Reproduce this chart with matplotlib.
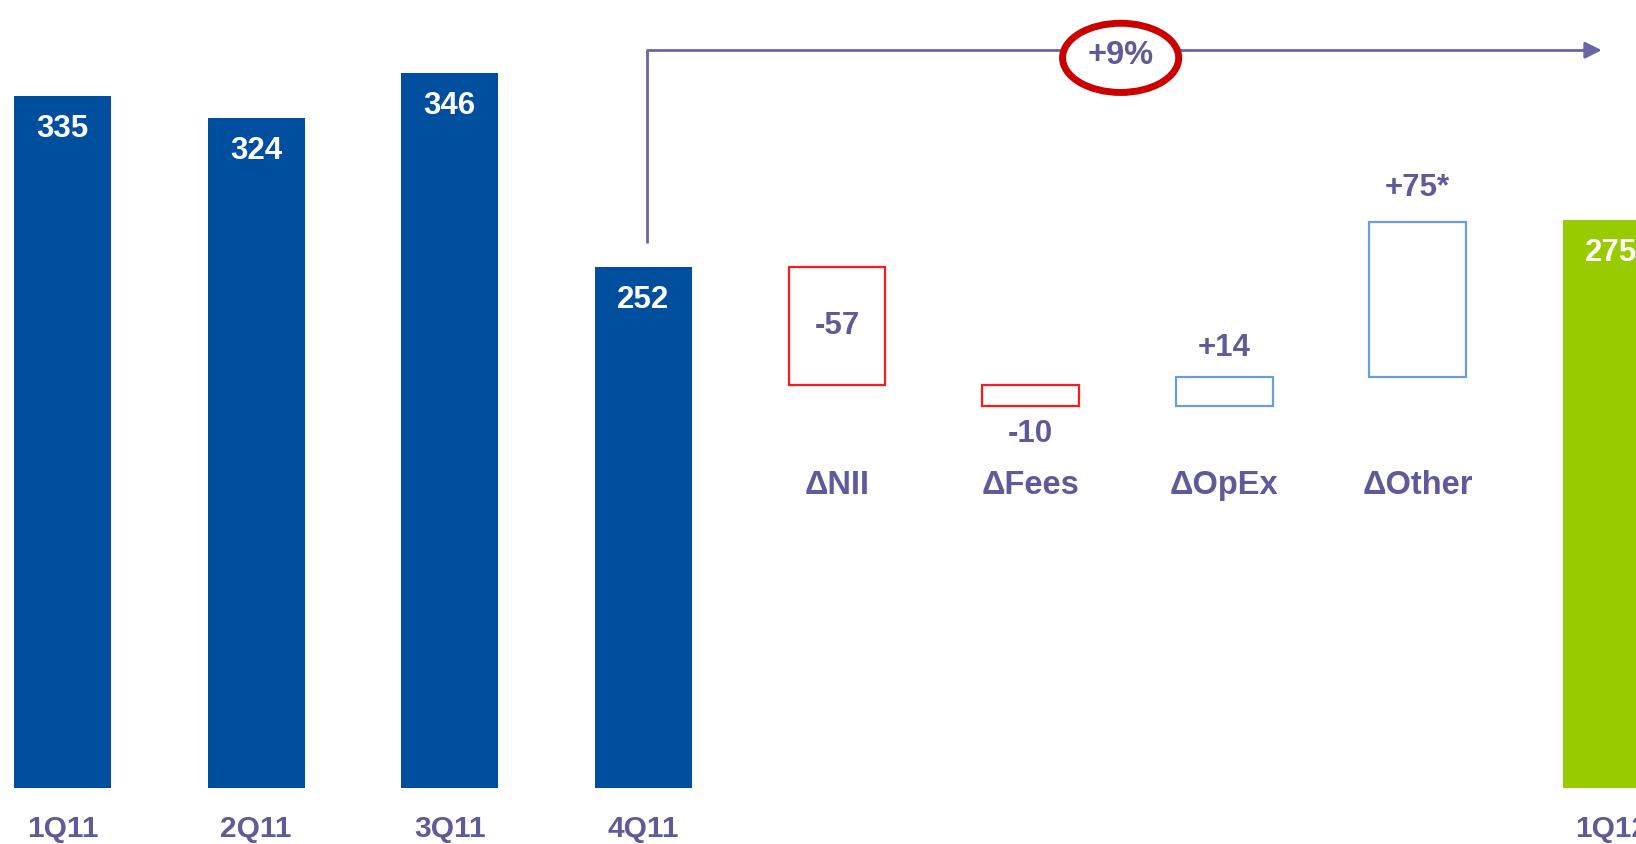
import matplotlib
matplotlib.use("Agg")
import matplotlib.pyplot as plt
from matplotlib.patches import Rectangle, Ellipse

# ---- data ----
quarters = ["1Q11", "2Q11", "3Q11", "4Q11"]
quarter_values = [335, 324, 346, 252]
delta_labels = ["ΔNII", "ΔFees", "ΔOpEx", "ΔOther"]
delta_values = [-57, -10, 14, 75]
delta_texts = ["-57", "-10", "+14", "+75*"]
final_label = "1Q12"
final_value = 275
growth_text = "+9%"

# ---- styles ----
BLUE = "#004F9E"
GREEN = "#99CC00"
RED_EDGE = "#FF1A1A"
BLUE_EDGE = "#6C9BDF"
PURPLE = "#5F5B99"
ARROW = "#6A66A3"
ELL = "#CC0000"
FS_CAT = 21.5
FS_VAL = 22.5
FS_DELTA_CAT = 23.5
FS_DELTA_VAL = 22.5
FS_GROWTH = 23.5
plt.rcParams["font.family"] = ["Liberation Sans", "DejaVu Sans"]

fig = plt.figure(figsize=(16.36, 8.44), dpi=100)
ax = fig.add_axes([0, 0, 1, 1])
ax.set_xlim(-0.3233, 8.127)
ax.set_ylim(-27.2, 381.3)
ax.axis("off")

W = 0.5
label_y_bottom = -20
label_y_delta = 146.5

# quarter bars
for i, (q, v) in enumerate(zip(quarters, quarter_values)):
    ax.bar(i, v, width=W, color=BLUE, zorder=2)
    ax.text(i, v - 16, str(v), ha="center", va="center", color="white",
            fontsize=FS_VAL, fontweight="bold", zorder=3)
    ax.text(i, label_y_bottom, q, ha="center", va="center", color=PURPLE,
            fontsize=FS_CAT, fontweight="bold")

# waterfall deltas
level = quarter_values[-1]
for j, (lab, d, t) in enumerate(zip(delta_labels, delta_values, delta_texts)):
    x = len(quarters) + j
    lo = min(level, level + d)
    hi = max(level, level + d)
    ec = RED_EDGE if d < 0 else BLUE_EDGE
    ax.add_patch(Rectangle((x - W / 2, lo), W, hi - lo, facecolor="white",
                           edgecolor=ec, linewidth=1.6, zorder=2))
    if abs(d) > 40 and d < 0:
        ty = (lo + hi) / 2
    elif d < 0:
        ty = lo - 14
    else:
        ty = hi + 14 + (2.5 if d > 40 else 0)
    ax.text(x, ty, t, ha="center", va="center", color=PURPLE,
            fontsize=FS_DELTA_VAL, fontweight="bold", zorder=3)
    ax.text(x, label_y_delta, lab, ha="center", va="center", color=PURPLE,
            fontsize=FS_DELTA_CAT, fontweight="bold")
    level += d

# final bar
xf = len(quarters) + len(delta_labels)
ax.bar(xf, final_value, width=W, color=GREEN, zorder=2)
ax.text(xf, final_value - 16, str(final_value), ha="center", va="center",
        color="white", fontsize=FS_VAL, fontweight="bold", zorder=3)
ax.text(xf, label_y_bottom, final_label, ha="center", va="center",
        color=PURPLE, fontsize=FS_CAT, fontweight="bold")

# growth arrow
x0 = len(quarters) - 1 + 0.02
y0 = 263.5
ytop = 357
x1 = xf - 0.05
ax.plot([x0, x0, x1 - 0.08], [y0, ytop, ytop], color=ARROW, lw=2, zorder=1,
        solid_capstyle="butt")
ax.annotate("", xy=(x1, ytop), xytext=(x1 - 0.1, ytop),
            arrowprops=dict(arrowstyle="-|>,head_length=1.0,head_width=0.5",
                            color=ARROW, lw=2, shrinkA=0, shrinkB=0))
ax.add_patch(Ellipse((5.465, 353.3), 0.60, 33.5, facecolor="white",
                     edgecolor=ELL, linewidth=5, zorder=4))
ax.text(5.465, 354.5, growth_text, ha="center", va="center", color=PURPLE,
        fontsize=FS_GROWTH, fontweight="bold", zorder=5)

fig.savefig("out.png", dpi=100)
